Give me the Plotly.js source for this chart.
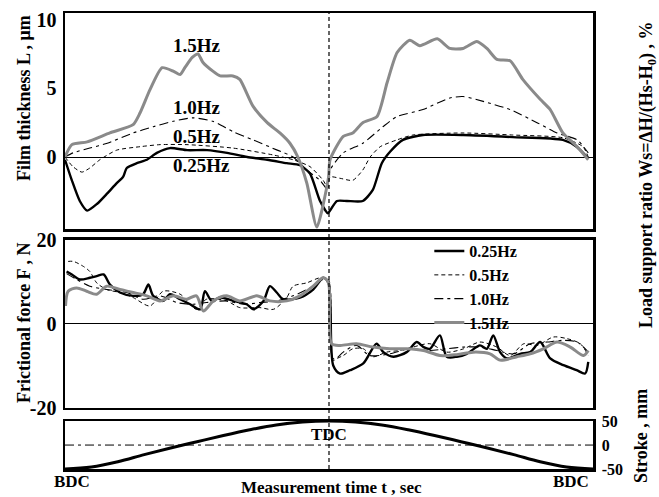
<!DOCTYPE html>
<html>
<head>
<meta charset="utf-8">
<script src="https://cdn.plot.ly/plotly-3.0.1.min.js"></script>
<style>html,body{margin:0;padding:0;background:#fff;}#chart{width:659px;height:497px;}</style>
</head>
<body>
<div id="chart"></div>
<script>
// ---- Film thickness L (µm) vs time (0..100, TDC at 50) ----
const t_film_025 = [0,1.3,2.8,4.2,6.1,8.0,9.8,11.0,11.7,13.6,15.5,17.4,19.9,23.1,26.9,30.7,34.5,38.3,42.0,44.5,46.4,48.3,49.8,50.2,51.5,53.4,56.4,58.3,60.0,61.6,64.0,67.8,75.4,84.8,94.3,96.9,99.1];
const film_025   = [-0.2,-1.7,-3.2,-3.9,-3.4,-2.65,-1.9,-1.45,-0.8,-0.45,-0.2,0.3,0.65,0.5,0.5,0.3,0,-0.2,-0.45,-0.6,-1.2,-3.2,-4.1,-3.9,-3.2,-3.2,-3.2,-2.4,-0.45,0.4,1.25,1.6,1.6,1.45,1.25,0.75,-0.1];

const t_film_05 = [0,1.5,3.2,4.7,6.6,9.8,14.2,18.0,23.1,31.8,39.4,43.2,46.4,48.9,49.7,50.2,52.1,54.5,56.4,57.8,59.7,62.9,65.9,75.4,84.8,94.3,98.1,99.1];
const film_05   = [0,-0.7,-1.1,-0.8,-0.2,0.5,0.75,0.9,0.9,0.65,0.15,-0.2,-0.7,-1.7,-2.2,-1.45,-1.55,-1.7,-0.95,0,0.75,1.25,1.6,1.75,1.6,1.4,0.75,0];

const t_film_10 = [0,1.5,4.7,8.0,12.9,16.7,20.5,24.2,28.0,31.8,35.6,40.2,43.2,45.8,48.3,49.8,50.2,52.7,56.4,60.2,62.9,67.8,72.9,75.4,79.2,84.3,89.4,93.2,97.0,99.1];
const film_10   = [0,0.3,0.65,1.0,1.75,2.2,2.6,2.85,2.6,1.85,1.25,0.5,0,-0.95,-1.7,-2.4,-0.95,0.3,1.0,2.2,2.95,3.45,4.3,4.4,4.05,3.45,2.5,1.75,1.25,0.3];

const t_film_15 = [0,1.3,4.2,8.5,12.9,14.2,16.1,18.4,20.5,21.8,22.7,24.1,25.2,26.1,28.0,29.4,31.8,33.1,35.6,38.3,40.7,42.6,44.1,45.8,47.7,49.9,50.2,52.7,54.5,56.4,59.1,61.0,62.9,65.3,67.2,70.5,72.9,75.4,78.0,79.9,81.8,84.3,86.7,90.0,91.9,94.3,97.0,99.1];
const film_15   = [0,0.9,1.1,1.75,2.35,3.2,4.9,6.5,6.25,6.0,6.5,7.25,7.5,6.9,6.25,5.9,5.9,5.65,3.7,2.5,1.75,1.0,0,-1.9,-5.1,-1.5,-0.2,1.5,1.75,2.5,2.95,5.4,7.6,8.5,8.1,8.6,7.9,7.9,8.4,7.9,7.1,7.0,5.65,4.2,3.45,1.75,0.75,-0.2];

// ---- Frictional force F (N) ----
const t_fric_025 = [0.3,1.3,2.8,4.7,6.0,7.3,8.5,10.4,12.9,14.8,15.8,16.7,18.6,19.9,21.8,23.7,25.6,26.5,27.8,29.4,31.9,34.4,35.7,37.6,38.8,40.1,41.3,44.5,47.0,48.9,49.9,50.8,52.1,54.0,56.5,59.0,60.3,62.2,64.7,66.6,67.9,69.1,71.0,72.3,74.2,76.1,78.6,79.9,81.1,82.4,83.7,86.2,88.1,90.0,91.9,94.4,96.9,98.5,99.1];
const fric_025   = [12.5,11.8,10.6,11.0,11.4,11.8,9.4,7.5,6.7,7.1,9.4,6.7,5.5,7.1,5.9,4.7,3.5,7.8,5.5,6.3,5.5,4.7,3.5,5.5,9.0,7.5,5.9,6.3,8.2,11.0,9.8,-9.9,-11.8,-11.0,-9.4,-4.7,-6.7,-7.8,-6.7,-4.3,-5.5,-5.9,-2.7,-7.8,-7.8,-7.1,-5.1,-5.9,-2.7,-6.7,-8.2,-7.1,-6.7,-4.3,-8.2,-9.8,-11.0,-11.8,-9.0];

const t_fric_05 = [0.6,1.6,3.5,4.7,6.0,7.9,10.4,12.9,16.1,18.6,21.8,24.9,26.8,30.6,33.1,36.9,39.5,42.0,43.2,45.8,48.3,49.9,50.8,52.7,54.5,56.5,58.3,60.9,63.4,65.9,69.1,72.3,75.5,78.6,81.8,84.3,86.9,89.4,92.5,95.1,97.6,99.1];
const fric_05   = [14.9,14.9,13.7,12.5,9.8,8.2,7.5,6.3,4.3,7.8,7.1,3.5,5.9,5.5,3.9,3.9,3.5,6.3,9.0,9.8,11.0,10.6,-8.2,-7.5,-5.9,-5.9,-7.8,-6.7,-6.3,-5.5,-4.7,-6.7,-5.9,-4.3,-5.5,-7.5,-4.7,-5.1,-3.1,-3.5,-4.7,-7.5];

const t_fric_10 = [0.3,2.2,4.7,7.9,11.7,14.8,18.0,21.2,24.3,26.8,30.6,33.8,36.9,40.1,43.2,46.4,48.9,49.9,50.8,52.7,55.2,57.7,61.5,65.3,69.1,72.3,75.5,78.6,81.8,85.0,88.1,91.3,94.4,97.0,99.1];
const fric_10   = [12.0,10.6,9.0,8.2,7.5,5.9,6.7,5.1,4.7,5.1,5.5,4.7,5.1,5.5,6.7,8.6,10.6,10.2,-8.6,-6.7,-5.1,-7.5,-7.1,-5.9,-6.3,-5.9,-5.5,-5.5,-6.3,-7.1,-4.7,-4.3,-3.9,-4.3,-6.7];

const t_fric_15 = [0.1,0.6,2.2,4.1,6.0,7.9,10.4,12.9,15.5,18.0,20.5,23.0,24.9,26.2,28.1,30.6,33.1,36.3,38.8,42.0,44.5,47.0,48.9,49.9,50.5,52.1,55.2,58.3,61.5,64.7,67.9,71.0,74.2,77.3,80.5,82.4,85.6,88.1,90.6,93.2,95.7,98.2,99.1];
const fric_15   = [4.3,7.8,8.6,7.8,7.1,9.0,8.2,7.5,6.7,5.5,6.7,5.9,6.7,3.1,5.5,6.7,5.5,6.7,5.5,5.5,6.7,9.0,11.0,9.8,-4.7,-5.1,-4.7,-5.5,-5.9,-5.9,-6.3,-7.5,-7.3,-6.7,-7.1,-8.6,-7.8,-7.1,-5.9,-4.3,-5.5,-7.5,-6.3];

// ---- Stroke (mm) ----
const t_stroke = [0,5,10,15,20,25,30,35,40,45,50,55,60,65,70,75,80,85,90,95,100];
const stroke   = [-50,-46,-35,-20,-6,7,20,32,42,48,50,48,42,32,20,7,-6,-20,-35,-46,-50];

// ---- labels ----
const seriesNames = ['0.25Hz','0.5Hz','1.0Hz','1.5Hz'];
const filmTicks = [0,5,10];
const ratioTicks = [0,50,100];
const fricTicks = [-20,0,20];
const fricTickText = ['-20','0','20'];
const strokeTicks = [-50,0,50];
const strokeTickText = ['-50','0','50'];

const FONT = 'Liberation Serif, Times New Roman, serif';
const GRAY = '#8a8a8a';
const styles = [
  {color:'black', width:2.4, dash:'solid'},
  {color:'black', width:1, dash:'4px,3px'},
  {color:'black', width:1.1, dash:'9px,4px,3px,4px'},
  {color:GRAY, width:3, dash:'solid'}
];
const filmT = [t_film_025,t_film_05,t_film_10,t_film_15];
const filmV = [film_025,film_05,film_10,film_15];
const fricT = [t_fric_025,t_fric_05,t_fric_10,t_fric_15];
const fricV = [fric_025,fric_05,fric_10,fric_15];

const traces = [];
for (let i=0;i<4;i++){
  traces.push({x:filmT[i], y:filmV[i], xaxis:'x', yaxis:'y', mode:'lines', name:seriesNames[i], showlegend:false,
    line:Object.assign({shape:'spline', smoothing:0.6}, styles[i]), hoverinfo:'skip'});
}
for (let i=0;i<4;i++){
  traces.push({x:fricT[i], y:fricV[i], xaxis:'x2', yaxis:'y2', mode:'lines', name:seriesNames[i], showlegend:true,
    line:Object.assign({shape:'spline', smoothing:0.8}, styles[i]), hoverinfo:'skip'});
}
traces.push({x:t_stroke, y:stroke, xaxis:'x3', yaxis:'y3', mode:'lines', line:{color:'black', width:3, shape:'spline'}, showlegend:false, hoverinfo:'skip'});

const boxX = {range:[0,100], showline:true, mirror:true, linecolor:'black', linewidth:2.5, ticks:'', showticklabels:false, showgrid:false, zeroline:false, fixedrange:true};
const tf = (s)=>({family:FONT, size:s, color:'black', weight:'bold'});
const ann = (o)=>Object.assign({showarrow:false, xanchor:'center', yanchor:'middle'}, o);

const layout = {
  width:659, height:497,
  margin:{l:65, r:66, t:13, b:28},
  paper_bgcolor:'white', plot_bgcolor:'white',
  font:{family:FONT, color:'black'},
  xaxis: Object.assign({}, boxX, {anchor:'y'}),
  xaxis2: Object.assign({}, boxX, {anchor:'y2'}),
  xaxis3: Object.assign({}, boxX, {anchor:'y3'}),
  yaxis: {domain:[0.5263,1], range:[-5.24,10.48], tickvals:filmTicks, ticks:'', showline:true, mirror:true, linecolor:'black', linewidth:2.5, showgrid:false, zeroline:true, zerolinecolor:'black', zerolinewidth:1, tickfont:tf(20), ticklabelstandoff:2},
  yaxis4: {overlaying:'y', side:'right', anchor:'x', range:[102.9,-205.7], tickvals:ratioTicks, ticks:'', showline:false, showgrid:false, zeroline:false, tickfont:tf(17), ticklabelstandoff:4},
  yaxis2: {domain:[0.1338,0.5022], range:[-20,20], tickvals:fricTicks, ticktext:fricTickText, ticks:'', showline:true, mirror:true, linecolor:'black', linewidth:2.5, showgrid:false, zeroline:true, zerolinecolor:'black', zerolinewidth:1, tickfont:tf(20), ticklabelstandoff:2},
  yaxis3: {domain:[0,0.105], range:[-50,50], side:'right', tickvals:strokeTicks, ticktext:strokeTickText, ticks:'', showline:true, mirror:true, linecolor:'black', linewidth:2.5, showgrid:false, zeroline:false, tickfont:tf(16), ticklabelstandoff:3},
  legend:{x:0.69, xanchor:'left', y:0.515, yanchor:'top', bgcolor:'rgba(0,0,0,0)', font:tf(16), tracegroupgap:0, itemwidth:30},
  shapes:[
    {type:'line', xref:'x', x0:50, x1:50, yref:'paper', y0:0, y1:1, line:{color:'black', width:1.2, dash:'4px,3px'}},
    {type:'line', xref:'x3', x0:0, x1:100, yref:'y3', y0:0, y1:0, line:{color:'black', width:1, dash:'9px,4px,3px,4px'}}
  ],
  annotations:[
    ann({xref:'x', yref:'y', x:25, y:8.15, text:'1.5Hz', font:tf(19)}),
    ann({xref:'x', yref:'y', x:25, y:3.57, text:'1.0Hz', font:tf(19)}),
    ann({xref:'x', yref:'y', x:25, y:1.46, text:'0.5Hz', font:tf(19)}),
    ann({xref:'x', yref:'y', x:25.8, y:-0.65, text:'0.25Hz', font:tf(19)}),
    ann({xref:'x3', yref:'y3', x:50, y:22, text:'TDC', font:tf(17)}),
    ann({xref:'paper', yref:'paper', x:(72-65)/528, y:(469-481)/456, text:'BDC', font:tf(17)}),
    ann({xref:'paper', yref:'paper', x:(571-65)/528, y:(469-481)/456, text:'BDC', font:tf(17)}),
    ann({xref:'paper', yref:'paper', x:(331-65)/528, y:(469-487)/456, text:'Measurement time t , sec', font:tf(17)}),
    ann({xref:'paper', yref:'paper', x:(24-65)/528, y:(469-98)/456, textangle:-90, text:'Film thickness L , \u03bcm', font:tf(18)}),
    ann({xref:'paper', yref:'paper', x:(24-65)/528, y:(469-323)/456, textangle:-90, text:'Frictional force F , N', font:tf(18)}),
    ann({xref:'paper', yref:'paper', x:(647-65)/528, y:(469-175)/456, textangle:-90, text:'Load support ratio Ws=\u0394H/(Hs-H<sub>0</sub>) , %', font:tf(18)}),
    ann({xref:'paper', yref:'paper', x:(641-65)/528, y:(469-436)/456, textangle:-90, text:'Stroke , mm', font:tf(18)})
  ]
};

Plotly.newPlot('chart', traces, layout, {staticPlot:true, displayModeBar:false});
</script>
</body>
</html>
